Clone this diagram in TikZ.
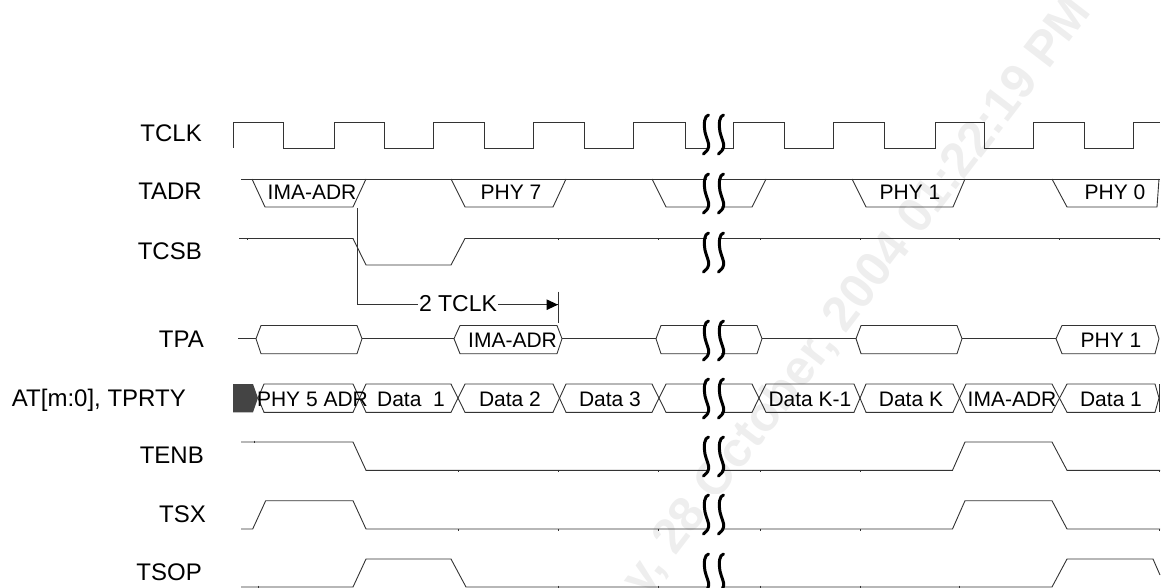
\documentclass[tikz,border=0pt]{standalone}
\usepackage{fontspec}
\setmainfont{Liberation Sans}
\usetikzlibrary{arrows.meta}
\definecolor{wave}{HTML}{333333}
\definecolor{wmark}{HTML}{EEEEEE}
\definecolor{blockfill}{HTML}{444444}
\tikzset{
  wv/.style={draw=wave,line width=0.9pt,line join=miter},
  lab/.style={anchor=base east,inner sep=0pt,font=\fontsize{24}{24}\selectfont,text=black},
  sig/.style={anchor=base,inner sep=0pt,font=\fontsize{21}{21}\selectfont,text=black},
  brkline/.style={draw=black,line width=3pt,line cap=round}
}
\newcommand{\brkrow}[1]{%
  \fill[white] (707,#1) rectangle (721,#1+41);
  \foreach \bx in {706.5,721.5}{
    \draw[brkline] (\bx+2,#1+1) .. controls (\bx-2,#1+2) and (\bx-3,#1+9) .. (\bx-1.5,#1+18)
      .. controls (\bx,#1+25) and (\bx+3,#1+29) .. (\bx+2,#1+33)
      .. controls (\bx+1.5,#1+37) and (\bx-1.5,#1+38) .. (\bx-3,#1+40);
  }}
\newcommand{\ticks}[2]{\foreach \tx in {#2}{\draw[wave,line width=0.8pt] (\tx,#1) -- (\tx,#1+2);}}
\begin{document}
\begin{tikzpicture}[x=1pt,y=-1pt]
\useasboundingbox (0,0) rectangle (1165,588);
\begin{scope}
\clip (0,0) rectangle (1165,588);
\node[anchor=base east,rotate=52.5,inner sep=0pt,text=wmark,font=\bfseries\fontsize{49}{49}\selectfont] (stamp) at (1093,12) {y, 28 October, 2004 01:22:19 PM};
\end{scope}
% labels
\node[lab] (lclk) at (202,142) {TCLK};
\node[lab] (ladr) at (202,200) {TADR};
\node[lab] (lcsb) at (202,259) {TCSB};
\node[lab] (lpa) at (204,347) {TPA};
\node[lab] (lat) at (186,406) {AT[m:0], TPRTY};
\node[lab] (lenb) at (204,463) {TENB};
\node[lab] (lsx) at (206,522.7) {TSX};
\node[lab] (lsop) at (202,580.7) {TSOP};
% TCLK
\draw[wv] (233,148) -- (233,122) -- (283,122) -- (283,148) -- (334,148) -- (334,122) -- (384,122) -- (384,148)
 -- (433,148) -- (433,122) -- (484,122) -- (484,148) -- (533,148) -- (533,122) -- (584,122) -- (584,148)
 -- (633,148) -- (633,122) -- (685,122) -- (685,148) -- (733,148) -- (733,122) -- (784,122) -- (784,148)
 -- (833,148) -- (833,122) -- (884,122) -- (884,148) -- (935,148) -- (935,122) -- (984,122) -- (984,148)
 -- (1033,148) -- (1033,122) -- (1084,122) -- (1084,148) -- (1133,148) -- (1133,122) -- (1160,122);
% TADR
\draw[wv] (241,179) -- (1160,179);
\draw[wv] (252,179) -- (265,207) -- (353,207) -- (366,179);
\draw[wv] (451,179) -- (465,207) -- (553,207) -- (566,179);
\draw[wv] (652,179) -- (666,207) -- (752,207) -- (766,179);
\draw[wv] (852,179) -- (866,207) -- (953,207) -- (965,179);
\draw[wv] (1052,179) -- (1067,207) -- (1157,207) -- (1159,179);
\node[sig] (t1) at (312,200) {IMA-ADR};
\node[sig] (t2) at (511,200) {PHY 7};
\node[sig] (t3) at (910,200) {PHY 1};
\node[sig] (t4) at (1115,200) {PHY 0};
% TCSB
\draw[wv] (239,238.5) -- (353,238.5) -- (366,265) -- (451,265) -- (465,238.5) -- (1160,238.5);
\ticks{238.5}{247,558,658,760,860,959,1059,1159}
% TPA
\draw[wv] (238,338.7) -- (256,338.7) (362,338.7) -- (454,338.7) (562,338.7) -- (656,338.7) (762,338.7) -- (856,338.7) (962,338.7) -- (1056,338.7);
\draw[wv] (256,338.7) -- (261,325.5) -- (357,325.5) -- (362,338.7) -- (357,353.7) -- (261,353.7) -- cycle;
\draw[wv] (454,338.7) -- (460,325.5) -- (557,325.5) -- (562,338.7) -- (557,353.7) -- (460,353.7) -- cycle;
\draw[wv] (656,338.7) -- (661,325.5) -- (757,325.5) -- (762,338.7) -- (757,353.7) -- (661,353.7) -- cycle;
\draw[wv] (856,338.7) -- (861,325.5) -- (957,325.5) -- (962,338.7) -- (957,353.7) -- (861,353.7) -- cycle;
\draw[wv] (1056,338.7) -- (1062,325.5) -- (1155,325.5) -- (1159,338.7) -- (1155,353.7) -- (1062,353.7) -- cycle;
\node[sig] (t5) at (512.5,347) {IMA-ADR};
\node[sig] (t6) at (1111,347) {PHY 1};
% Bus
\fill[blockfill] (233,384) -- (253,384) -- (258,398) -- (253,412.3) -- (233,412.3) -- cycle;
\draw[wv] (258,398) -- (264,384) -- (353,384) -- (366,412.3) -- (451,412.3) -- (465,384) -- (553,384) -- (566,412.3) -- (652,412.3) -- (666,384) -- (752,384) -- (766,412.3) -- (854,412.3) -- (866,384) -- (953,384) -- (966,412.3) -- (1052,412.3) -- (1067,384) -- (1155,384) -- (1159,398);
\draw[wv] (258,398) -- (264,412.3) -- (353,412.3) -- (366,384) -- (451,384) -- (465,412.3) -- (553,412.3) -- (566,384) -- (652,384) -- (666,412.3) -- (752,412.3) -- (766,384) -- (854,384) -- (866,412.3) -- (953,412.3) -- (966,384) -- (1052,384) -- (1067,412.3) -- (1155,412.3) -- (1159,398);
\draw[wv] (1159.5,384) -- (1159.5,412.3);
\node[sig] (d0) at (312.5,406) {PHY 5 ADR};
\node[sig] (d1) at (411,406) {Data\ \ 1};
\node[sig] (d2) at (510,406) {Data 2};
\node[sig] (d3) at (610,406) {Data 3};
\node[sig] (d4) at (810,406) {Data K-1};
\node[sig] (d5) at (911,406) {Data K};
\node[sig] (d6) at (1012,406) {IMA-ADR};
\node[sig] (d7) at (1111,406) {Data 1};
% TENB
\draw[wv] (241,442) -- (353,442) -- (366,470.3) -- (952.5,470.3) -- (965,442) -- (1052,442) -- (1067,470.3) -- (1160,470.3);
\ticks{440.5}{254}
\ticks{470.3}{458,558,658,760,860,1159}
% TSX
\draw[wv] (241,529) -- (252.7,529) -- (265.7,500.7) -- (353,500.7) -- (366,529) -- (952.5,529) -- (965,500.7) -- (1052,500.7) -- (1067,529) -- (1160,529);
\ticks{529}{458,558,658,760,860,1159}
% TSOP
\draw[wv] (241,587) -- (353,587) -- (366,559) -- (451,559) -- (466,587) -- (1052,587) -- (1067,559) -- (1153,559) -- (1160,575);
\ticks{585.5}{258,558,658,760,860,959}
% dimension
\coordinate (da) at (357.7,208);
\coordinate (db) at (558,304.7);
\coordinate (dc) at (558,291.7);
\coordinate (dd) at (558,323.3);
\draw[draw=wave,line width=0.9pt] (da) |- (db);
\draw[draw=wave,line width=0.9pt] (dc) -- (dd);
\fill[black] (db) -- (546.5,299.3) -- (546.5,310.1) -- cycle;
\node[sig,fill=white,inner xsep=1pt,inner ysep=1pt,font=\fontsize{23}{23}\selectfont] (dim) at (458,312) {2 TCLK};
% breaks
\brkrow{114}
\brkrow{173}
\brkrow{232}
\brkrow{320}
\brkrow{378}
\brkrow{436}
\brkrow{494}
\brkrow{553}
\end{tikzpicture}
\end{document}
